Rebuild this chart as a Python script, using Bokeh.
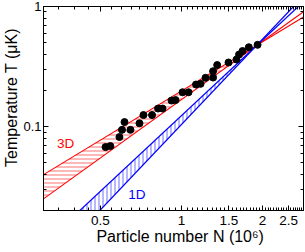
import numpy as np
from bokeh.plotting import figure
from bokeh.models import Range1d, LogAxis, FixedTicker, CustomJSTickFormatter
from bokeh.core.properties import value
from bokeh.embed import file_html
from bokeh.resources import INLINE

# ---- data ----
N_data = [0.522, 0.544, 0.588, 0.601, 0.646, 0.614, 0.698, 0.722, 0.777, 0.818,
          0.850, 0.918, 0.950, 1.009, 1.062, 1.132, 1.177, 1.228, 1.310, 1.310,
          1.357, 1.495, 1.601, 1.636, 1.686, 1.779, 1.917]
T_data = [0.0675, 0.0688, 0.0818, 0.0939, 0.0939, 0.109, 0.1065, 0.1247, 0.1247, 0.1413,
          0.1413, 0.1647, 0.1663, 0.1931, 0.1931, 0.2239, 0.2269, 0.2546, 0.256, 0.289,
          0.3254, 0.3415, 0.3617, 0.398, 0.4257, 0.458, 0.4796]

# 3D fit band (two lines), endpoints (N, T)
red_N = [0.307, 2.84]
red_upper_T = [0.0398, 0.819]
red_lower_T = [0.0250, 0.905]
# 1D fit band (two lines), endpoints (N, T)
blue_a_N = [0.419, 2.718]
blue_b_N = [0.497, 2.608]
blue_T = [0.02, 1.0]

x_major = [0.5, 1, 1.5, 2, 2.5]
x_minor = [round(v, 2) for v in np.arange(0.30, 2.86, 0.05)]
y_major = [0.1, 1]
y_minor = [0.02, 0.03, 0.04, 0.05, 0.06, 0.07, 0.08, 0.09,
           0.2, 0.3, 0.4, 0.5, 0.6, 0.7, 0.8, 0.9]

x_title = "Particle number N (10\u2076)"
y_title = "Temperature T (\u03bcK)"

label_3d = ("3D", 0.371, 0.0726)
label_1d = ("1D", 0.683, 0.0271)


def cross(n1, t1, n2, t2):
    lx1, ly1 = np.log10(n1), np.log10(t1)
    lx2, ly2 = np.log10(n2), np.log10(t2)
    s1 = (ly1[1] - ly1[0]) / (lx1[1] - lx1[0])
    s2 = (ly2[1] - ly2[0]) / (lx2[1] - lx2[0])
    x = (ly2[0] - ly1[0] + s1 * lx1[0] - s2 * lx2[0]) / (s1 - s2)
    y = ly1[0] + s1 * (x - lx1[0])
    return 10 ** x, 10 ** y


RED = "#ff0000"
BLUE = "#0000ff"
FONT = "Liberation Sans"
NBSP = "\u00a0"

p = figure(width=305, height=252, x_axis_type="log", y_axis_type="log",
           x_range=Range1d(0.307, 2.84), y_range=Range1d(0.02, 1.0),
           output_backend="svg", toolbar_location=None,
           min_border_left=43, min_border_right=2, min_border_top=6, min_border_bottom=42)
p.xgrid.visible = False
p.ygrid.visible = False
p.outline_line_color = "black"
p.background_fill_color = "white"
p.border_fill_color = "white"

fmt = CustomJSTickFormatter(code="return String(tick)")
blank = CustomJSTickFormatter(code="return ''")


def style(ax, show, tick_fs="13.5px", title_fs="16.5px"):
    ax.major_tick_in = 5
    ax.major_tick_out = 0
    ax.minor_tick_in = 3
    ax.minor_tick_out = 0
    ax.axis_line_color = "black"
    ax.major_tick_line_color = "black"
    ax.minor_tick_line_color = "black"
    if show:
        ax.formatter = fmt
        ax.major_label_text_font = FONT
        ax.major_label_text_font_size = tick_fs
        ax.major_label_text_color = "black"
        ax.axis_label_text_font = FONT
        ax.axis_label_text_font_size = title_fs
        ax.axis_label_text_font_style = "normal"
        ax.axis_label_text_color = "black"
        ax.axis_label_standoff = 0
    else:
        ax.formatter = blank
        ax.major_label_text_color = None
        ax.major_label_standoff = 0


xt = FixedTicker(ticks=x_major, minor_ticks=x_minor)
yt = FixedTicker(ticks=y_major, minor_ticks=y_minor)

p.xaxis[0].ticker = xt
p.yaxis[0].ticker = yt
style(p.xaxis[0], True, tick_fs="13.5px", title_fs="16px")
style(p.yaxis[0], True, tick_fs="13px", title_fs="16px")
p.xaxis[0].major_label_standoff = 5
p.yaxis[0].major_label_standoff = 2
p.xaxis[0].axis_label = NBSP * 3 + x_title
p.yaxis[0].axis_label = NBSP * 5 + y_title

top = LogAxis(ticker=FixedTicker(ticks=x_major, minor_ticks=x_minor))
style(top, False)
p.add_layout(top, "above")
right = LogAxis(ticker=FixedTicker(ticks=y_major, minor_ticks=y_minor))
style(right, False)
p.add_layout(right, "right")

# 3D band
rc = cross(red_N, red_upper_T, red_N, red_lower_T)
p.patch([red_N[0], rc[0], red_N[0]], [red_upper_T[0], rc[1], red_lower_T[0]],
        fill_alpha=0, line_alpha=0, hatch_pattern="horizontal_line",
        hatch_color=RED, hatch_scale=4, hatch_weight=0.8, hatch_alpha=0.7)
p.line(red_N, red_upper_T, line_color=RED, line_width=1.1)
p.line(red_N, red_lower_T, line_color=RED, line_width=1.1)

# 1D band
bc = cross(blue_a_N, blue_T, blue_b_N, blue_T)
p.patch([blue_a_N[0], bc[0], blue_b_N[0]], [blue_T[0], bc[1], blue_T[0]],
        fill_alpha=0, line_alpha=0, hatch_pattern="vertical_line",
        hatch_color=BLUE, hatch_scale=4, hatch_weight=0.8, hatch_alpha=0.7)
p.line(blue_a_N, blue_T, line_color=BLUE, line_width=1.1)
p.line(blue_b_N, blue_T, line_color=BLUE, line_width=1.1)

p.scatter(N_data, T_data, size=7, color="black")

p.text(x=[label_3d[1]], y=[label_3d[2]], text=[label_3d[0]], text_color=RED,
       text_font=value(FONT), text_font_size="13.5px", text_align="center", text_baseline="middle")
p.text(x=[label_1d[1]], y=[label_1d[2]], text=[label_1d[0]], text_color=BLUE,
       text_font=value(FONT), text_font_size="13.5px", text_align="center", text_baseline="middle")

open("out.html", "w").write(file_html(p, INLINE))
